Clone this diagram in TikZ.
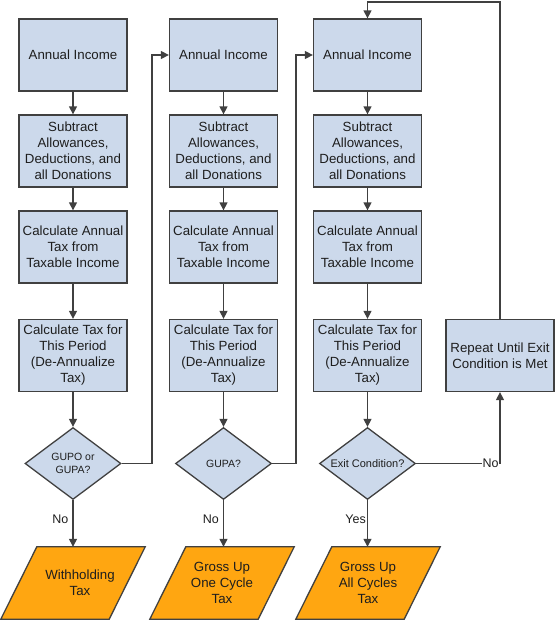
\documentclass[tikz,border=0pt]{standalone}
\usepackage{fontspec}
\setmainfont{Liberation Sans}
\usetikzlibrary{shapes.geometric,arrows.meta}
\pgfdeclarelayer{bg}
\pgfsetlayers{bg,main}
\definecolor{boxblue}{RGB}{204,217,235}
\definecolor{outorange}{RGB}{255,166,17}
\definecolor{edgegray}{RGB}{64,64,64}
\definecolor{txt}{RGB}{30,30,30}
\tikzset{
  proc/.style={draw=edgegray, line width=1.3pt, fill=boxblue, minimum width=108pt, minimum height=72pt,
    inner sep=0pt, align=center, text=txt, font=\fontsize{13.3}{16}\selectfont},
  dec/.style={diamond, draw=edgegray, line width=1.3pt, fill=boxblue, minimum width=96pt, minimum height=72pt,
    inner sep=0pt, aspect=1.333, align=center, text=txt},
  outp/.style={minimum width=108pt, minimum height=72pt,
    inner sep=0pt, align=center, text=txt, font=\fontsize{13.3}{16}\selectfont},
  para/.style={draw=edgegray, line width=1.3pt, fill=outorange, line join=miter},
  outtext/.style={inner sep=0pt, align=center, text=txt, font=\fontsize{13.3}{16}\selectfont},
  conn/.style={draw=edgegray, line width=1.3pt, -{Triangle[length=8pt,width=8pt]}},
  lab/.style={font=\fontsize{12.5}{14}\selectfont, text=txt, inner sep=0pt},
}
\newcommand{\drawpara}[1]{%
  \begin{pgfonlayer}{bg}
  \path[para] ([xshift=18pt]#1.north west) -- ([xshift=18pt]#1.north east)
     -- ([xshift=-18pt]#1.south east) -- ([xshift=-18pt]#1.south west) -- cycle;
  \end{pgfonlayer}}
\begin{document}
\begin{tikzpicture}[x=1pt,y=-1pt]
\useasboundingbox (0,0) rectangle (555,621);
% column 1
\node[proc] (a1) at (73,55) {Annual Income};
\node[proc] (s1) at (73,151) {Subtract\\Allowances,\\Deductions, and\\all Donations};
\node[proc] (c1) at (73,247) {Calculate Annual\\Tax from\\Taxable Income};
\node[proc] (p1) at (73,355.5) {Calculate Tax for\\This Period\\(De-Annualize\\Tax)};
\node[dec, font=\fontsize{10.5}{13.3}\selectfont] (d1) at (73,463.5) {GUPO or\\GUPA?};
\node[outp] (w1) at (73,583) {};
\node[outtext] (w1t) at (80,583) {Withholding\\Tax};
% column 2
\node[proc] (a2) at (223.5,55) {Annual Income};
\node[proc] (s2) at (223.5,151) {Subtract\\Allowances,\\Deductions, and\\all Donations};
\node[proc] (c2) at (223.5,247) {Calculate Annual\\Tax from\\Taxable Income};
\node[proc] (p2) at (223.5,355.5) {Calculate Tax for\\This Period\\(De-Annualize\\Tax)};
\node[dec, font=\fontsize{10.5}{13.3}\selectfont] (d2) at (223.5,463.5) {GUPA?};
\node[outp] (w2) at (222,583) {Gross Up\\One Cycle\\Tax};
% column 3
\node[proc] (a3) at (367.5,55) {Annual Income};
\node[proc] (s3) at (367.5,151) {Subtract\\Allowances,\\Deductions, and\\all Donations};
\node[proc] (c3) at (367.5,247) {Calculate Annual\\Tax from\\Taxable Income};
\node[proc] (p3) at (367.5,355.5) {Calculate Tax for\\This Period\\(De-Annualize\\Tax)};
\node[dec, font=\fontsize{11}{13.3}\selectfont] (d3) at (367.5,463.5) {Exit Condition?};
\node[outp] (w3) at (368,583) {Gross Up\\All Cycles\\Tax};
\drawpara{w1}\drawpara{w2}\drawpara{w3}
% repeat box
\node[proc] (r) at (500,355.5) {Repeat Until Exit\\Condition is Met};
% helper coordinates
\coordinate (k1) at (152,463.5);
\coordinate (k2) at (296,463.5);
\coordinate (k3) at (500,2);
% vertical flows
\foreach \c in {1,2,3}{
  \draw[conn] (a\c) -- (s\c);
  \draw[conn] (s\c) -- (c\c);
  \draw[conn] (c\c) -- (p\c);
  \draw[conn] (p\c) -- (d\c);
}
\draw[conn] (d1.south) -- node[lab, left, xshift=-4pt, pos=0.42] {No} (d1.south |- w1.north);
\draw[conn] (d2.south) -- node[lab, left, xshift=-4pt, pos=0.42] {No} (d2.south |- w2.north);
\draw[conn] (d3.south) -- node[lab, left, xshift=-1pt, pos=0.42] {Yes} (d3.south |- w3.north);
% loops
\draw[conn] (d1.east) -- (k1) |- (a2.west);
\draw[conn] (d2.east) -- (k2) |- (a3.west);
\draw[conn] (d3.east) -| (r.south);
\node[lab, fill=white, anchor=east, inner sep=0.6pt] (no3) at (499.3,463.5) {No};
\draw[conn] (r.north) -- (k3) -| (a3.north);
\end{tikzpicture}
\end{document}
